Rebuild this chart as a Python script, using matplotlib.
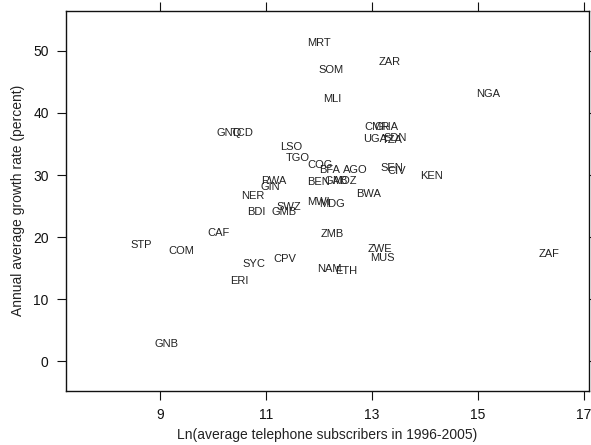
import matplotlib
matplotlib.use("Agg")
import matplotlib.pyplot as plt

plt.rcParams['font.family'] = ['Liberation Sans', 'DejaVu Sans']

# Country codes with log telephone subscribers and annual growth rate
codes = ["MRT", "ZAR", "SOM", "MLI", "NGA", "GNQ", "TCD", "LSO", "TGO", "COG",
         "BFA", "AGO", "CMR", "GHA", "UGA", "TZA", "SDN", "SEN", "CIV", "KEN",
         "RWA", "GIN", "BEN", "GAB", "MOZ", "BWA", "NER", "MWI", "MDG", "SWZ",
         "BDI", "GMB", "CAF", "ZMB", "STP", "COM", "ZWE", "MUS", "ZAF", "CPV",
         "SYC", "NAM", "ETH", "ERI", "GNB"]
ln_phones = [11.99, 13.34, 12.22, 12.25, 15.20, 10.30, 10.54, 11.48, 11.60, 12.01,
             12.20, 12.68, 13.09, 13.27, 13.06, 13.38, 13.43, 13.38, 13.47, 14.13,
             11.15, 11.08, 11.99, 12.33, 12.47, 12.94, 10.75, 11.99, 12.24, 11.42,
             10.81, 11.33, 10.10, 12.24, 8.64, 9.40, 13.15, 13.20, 16.34, 11.35,
             10.78, 12.20, 12.51, 10.50, 9.12]
growth = [51.2, 48.2, 46.9, 42.2, 43.0, 36.8, 36.8, 34.5, 32.7, 31.6,
          30.8, 30.8, 37.8, 37.8, 35.8, 35.6, 36.0, 31.1, 30.7, 29.8,
          29.0, 28.1, 28.8, 29.1, 29.1, 27.0, 26.6, 25.7, 25.3, 24.9,
          24.1, 24.1, 20.7, 20.5, 18.75, 17.8, 18.05, 16.7, 17.2, 16.5,
          15.7, 14.9, 14.5, 12.9, 2.8]

x_ticks = [9, 11, 13, 15, 17]
y_ticks = [0, 10, 20, 30, 40, 50]

fig = plt.figure(figsize=(5.91, 4.45), dpi=100)
ax = fig.add_axes([0.1117, 0.1213, 0.885, 0.855])

for code, xv, yv in zip(codes, ln_phones, growth):
    ax.text(xv, yv, code, ha='center', va='center', fontsize=8, color='#222222')

ax.set_xlim(7.22, 17.1)
ax.set_ylim(-4.8, 56.5)
ax.set_xticks(x_ticks)
ax.set_yticks(y_ticks)
ax.tick_params(axis='both', direction='out', length=6.5, width=0.8,
               labelsize=10, colors='#111111', pad=6,
               top=True, right=True, labeltop=False, labelright=False)
for sp in ax.spines.values():
    sp.set_linewidth(1.0)
    sp.set_color('#111111')

ax.set_xlabel("Ln(average telephone subscribers in 1996-2005)", fontsize=10,
              color='#222222', labelpad=4)
ax.set_ylabel("Annual average growth rate (percent)", fontsize=10,
              color='#222222', labelpad=6)

fig.savefig("out.png", dpi=100)
